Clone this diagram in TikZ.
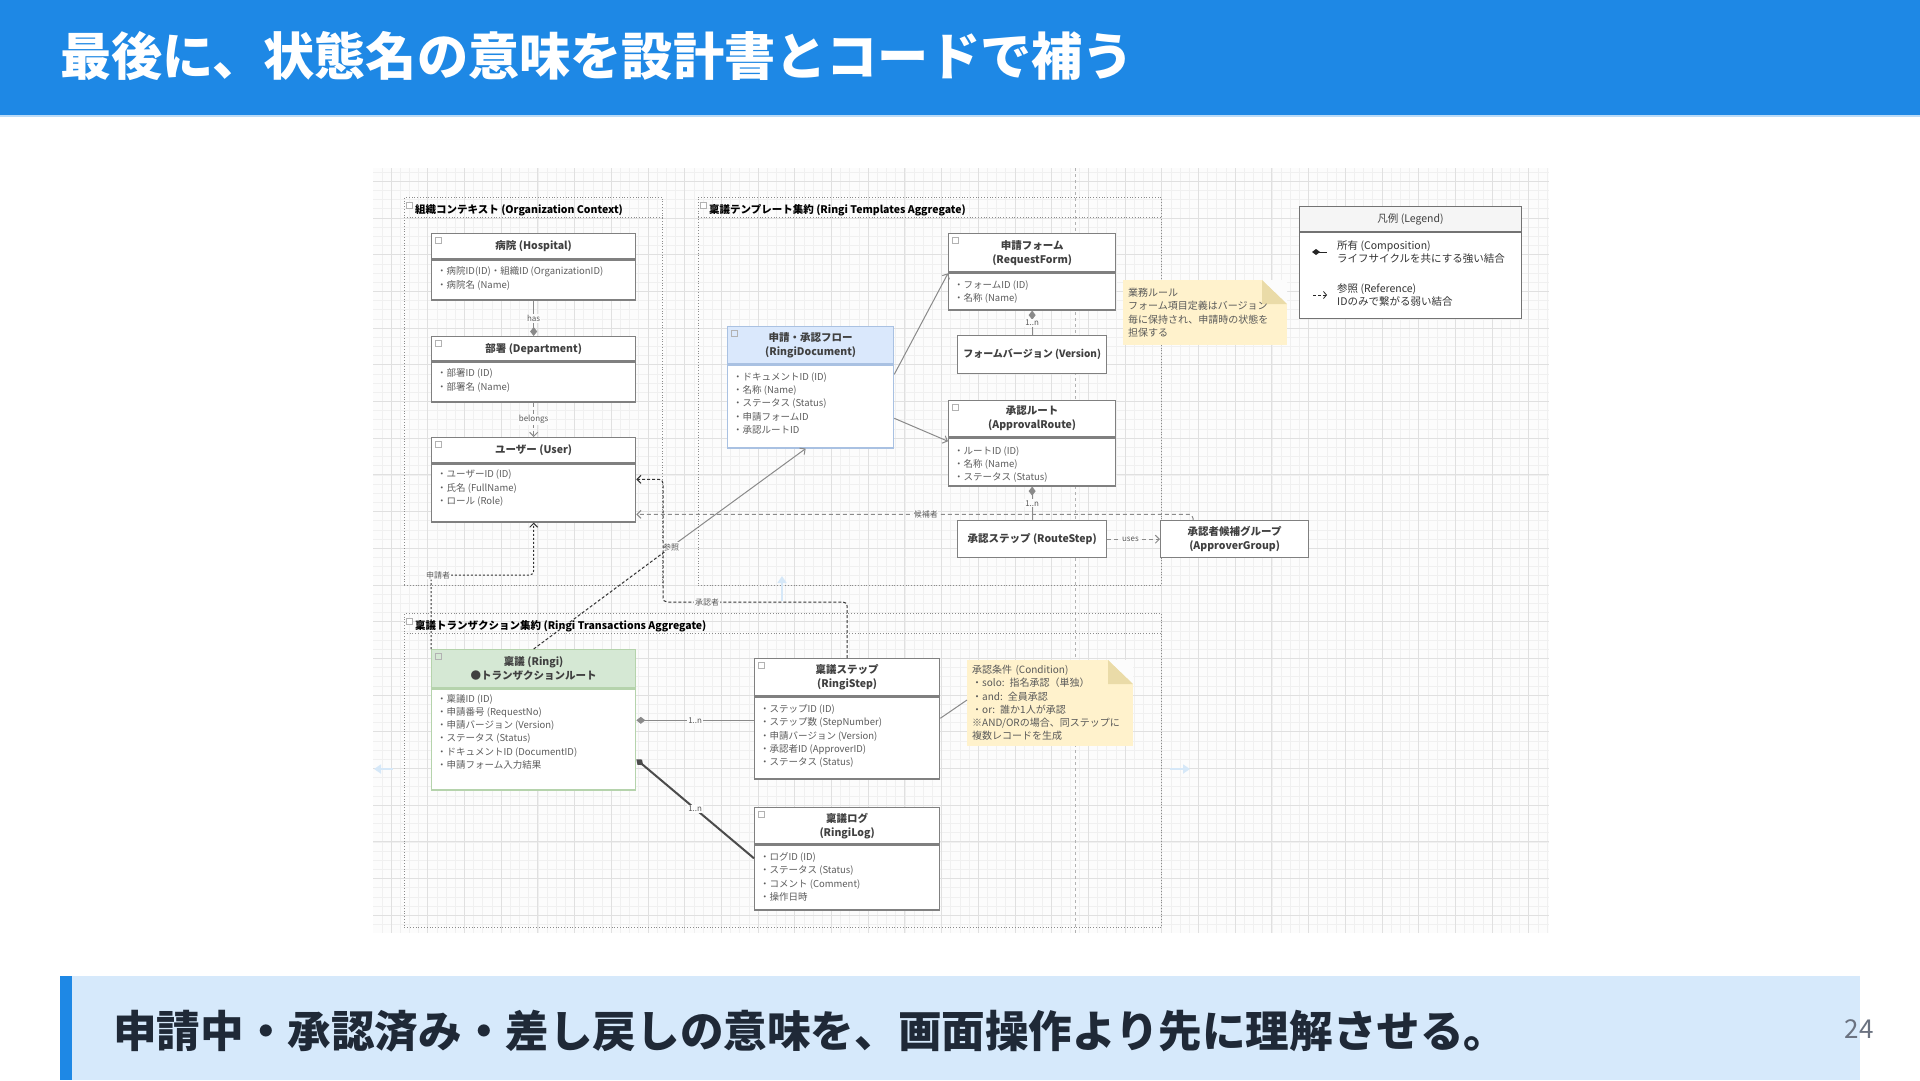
\documentclass[tikz,border=0pt]{standalone}
\usepackage{fontspec}
\setmainfont{Noto Sans CJK JP}
\usetikzlibrary{arrows.meta}

\definecolor{titleblue}{HTML}{1E88E5}
\definecolor{barblue}{HTML}{D6E9FB}
\definecolor{textnavy}{HTML}{1F2937}
\definecolor{pagegray}{HTML}{6B7280}
\definecolor{gridbg}{HTML}{FCFCFC}
\definecolor{gridminor}{HTML}{F0F0F0}
\definecolor{gridmajor}{HTML}{E0E0E0}
\definecolor{boxgray}{HTML}{808080}
\definecolor{linegray}{HTML}{8A8A8A}
\definecolor{attrgray}{HTML}{5C5C5C}
\definecolor{docblue}{HTML}{DAE8FC}
\definecolor{docedge}{HTML}{A9C1E2}
\definecolor{ringigreen}{HTML}{D5E8D4}
\definecolor{ringiedge}{HTML}{B5D3AC}
\definecolor{notefill}{HTML}{FFF2CC}
\definecolor{notefold}{HTML}{EADBA8}
\definecolor{hintblue}{HTML}{D6E8F8}

\begin{document}
\begin{tikzpicture}[x=1pt, y=-1pt,
    hdr/.style={draw=boxgray, line width=1.3pt, fill=white, anchor=north west, inner sep=0pt,
      align=center, font=\fontsize{10.5}{14}\selectfont\bfseries, text=black!75},
    body/.style={draw=boxgray, line width=1.3pt, fill=white, anchor=north west, inner sep=0pt},
    attr/.style={anchor=north west, inner sep=0pt, align=left,
      font=\fontsize{9.5}{13.3}\selectfont, text=attrgray},
    ctxframe/.style={draw=black!45, dotted, line width=0.8pt, anchor=north west, inner sep=0pt},
    ctxtitle/.style={anchor=west, inner sep=0pt, font=\fontsize{10.5}{12}\selectfont\bfseries},
    note/.style={fill=notefill, anchor=north west, inner sep=5pt, align=left, text=black!65,
      font=\fontsize{10}{13.6}\selectfont,
      path picture={
        \fill[gridbg] ([xshift=-25pt]path picture bounding box.north east)
          -- (path picture bounding box.north east)
          -- ([yshift=-24pt]path picture bounding box.north east) -- cycle;
        \fill[notefold] ([xshift=-25pt]path picture bounding box.north east)
          -- ([xshift=-25pt,yshift=-24pt]path picture bounding box.north east)
          -- ([yshift=-24pt]path picture bounding box.north east) -- cycle;}},
    lbl/.style={fill=gridbg, inner sep=1pt, font=\fontsize{8}{9}\selectfont, text=black!65},
    comp/.style={draw=linegray, line width=1pt, -{Diamond[length=9pt,width=7pt]}},
    comprev/.style={draw=linegray, line width=1pt, {Diamond[length=9pt,width=7pt]}-},
    refline/.style={draw=linegray, line width=1pt, dash pattern=on 4pt off 3pt,
      -{Straight Barb[length=4pt,width=8pt]}},
    xref/.style={draw=black!80, line width=1pt, dash pattern=on 3pt off 2pt, rounded corners=4pt,
      -{Straight Barb[length=4pt,width=8pt]}},
    flow/.style={draw=linegray, line width=1pt, -{Straight Barb[length=4pt,width=8pt]}},
    icon/.style={draw=black!30, line width=0.5pt},
    hint/.style={draw=hintblue, line width=2.5pt, -{Triangle[length=7pt,width=9pt]}}
  ]
  \useasboundingbox (0,0) rectangle (1920,1080);
  \fill[white] (0,0) rectangle (1920,1080);

  % title bar
  \fill[titleblue] (0,0) rectangle (1920,115);
  \fill[titleblue!30] (0,115) rectangle (1920,117);
  \node[anchor=west, inner sep=0pt, text=white, font=\fontsize{51.2}{60}\selectfont\bfseries] (title) at (60,56) {最後に、状態名の意味を設計書とコードで補う};

  % diagram canvas with grid
  \fill[gridbg] (373,168) rectangle (1549,933);
  \foreach \i in {0,...,127} \draw[gridminor, line width=0.5pt] ({381.8+\i*9.175},168) -- ({381.8+\i*9.175},933);
  \foreach \j in {0,...,82} \draw[gridminor, line width=0.5pt] (373,{172.0+\j*9.175}) -- (1549,{172.0+\j*9.175});
  \foreach \i in {0,...,31} \draw[gridmajor, line width=0.8pt] ({391.0+\i*36.7},168) -- ({391.0+\i*36.7},933);
  \foreach \j in {0,...,20} \draw[gridmajor, line width=0.8pt] (373,{181.2+\j*36.7}) -- (1549,{181.2+\j*36.7});
  \draw[black!30, dashed, line width=0.8pt] (1075,168) -- (1075,933);

  % contexts
  \node[ctxframe, minimum width=258, minimum height=388] (orgctx) at (404,197) {};
  \draw[ctxframe] ([yshift=-20pt]orgctx.north west) -- ([yshift=-20pt]orgctx.north east);
  \node[ctxtitle] (orgtitle) at ([xshift=11pt,yshift=-13.5pt]orgctx.north west) {組織コンテキスト (Organization Context)};
  \node[ctxframe, minimum width=463, minimum height=388] (tplctx) at (698,197) {};
  \draw[ctxframe] ([yshift=-20pt]tplctx.north west) -- ([yshift=-20pt]tplctx.north east);
  \node[ctxtitle] (tpltitle) at ([xshift=11pt,yshift=-13.5pt]tplctx.north west) {稟議テンプレート集約 (Ringi Templates Aggregate)};
  \node[ctxframe, minimum width=757, minimum height=314] (trxctx) at (404,613) {};
  \draw[ctxframe] ([yshift=-20pt]trxctx.north west) -- ([yshift=-20pt]trxctx.north east);
  \node[ctxtitle] (trxtitle) at ([xshift=11pt,yshift=-13.5pt]trxctx.north west) {稟議トランザクション集約 (Ringi Transactions Aggregate)};
  \foreach \n in {orgctx, tplctx, trxctx}
    \draw[icon, fill=white] ([xshift=2pt,yshift=-5pt]\n.north west) rectangle ++(6,6);

  % draw.io hover hints
  \draw[hint] (782,601) -- (782,576);
  \draw[hint] (393,769) -- (374,769);
  \draw[hint] (1170,769) -- (1190,769);

  % organization context
  \node[hdr, minimum width=204, minimum height=25] (hospitalH) at (431,233) {病院 (Hospital)};
  \node[body, minimum width=204, minimum height=40] (hospitalB) at (hospitalH.south west) {};
  \node[attr] (hospitalA) at ([xshift=6pt,yshift=-7.5pt]hospitalB.north west) {・病院ID(ID)・組織ID (OrganizationID)\\・病院名 (Name)};

  \node[hdr, minimum width=204, minimum height=24] (departmentH) at (431,336) {部署 (Department)};
  \node[body, minimum width=204, minimum height=40] (departmentB) at (departmentH.south west) {};
  \node[attr] (departmentA) at ([xshift=6pt,yshift=-7.5pt]departmentB.north west) {・部署ID (ID)\\・部署名 (Name)};

  \node[hdr, minimum width=204, minimum height=25] (userH) at (431,437) {ユーザー (User)};
  \node[body, minimum width=204, minimum height=58] (userB) at (userH.south west) {};
  \node[attr] (userA) at ([xshift=6pt,yshift=-6.5pt]userB.north west) {・ユーザーID (ID)\\・氏名 (FullName)\\・ロール (Role)};

  % templates aggregate
  \node[hdr, minimum width=166, minimum height=37, fill=docblue, draw=docedge] (ringidocH) at (727,326) {申請・承認フロー\\(RingiDocument)};
  \node[body, minimum width=166, minimum height=83, draw=docedge] (ringidocB) at (ringidocH.south west) {};
  \node[attr] (ringidocA) at ([xshift=6pt,yshift=-8pt]ringidocB.north west) {・ドキュメントID (ID)\\・名称 (Name)\\・ステータス (Status)\\・申請フォームID\\・承認ルートID};

  \node[hdr, minimum width=167, minimum height=38] (reqformH) at (948,233) {申請フォーム\\(RequestForm)};
  \node[body, minimum width=167, minimum height=37] (reqformB) at (reqformH.south west) {};
  \node[attr] (reqformA) at ([xshift=6pt,yshift=-8pt]reqformB.north west) {・フォームID (ID)\\・名称 (Name)};

  \node[hdr, minimum width=149, minimum height=38, font=\fontsize{10}{12}\selectfont\bfseries] (formver) at (957,335) {フォームバージョン (Version)};

  \node[hdr, minimum width=167, minimum height=36] (routeH) at (948,400) {承認ルート\\(ApprovalRoute)};
  \node[body, minimum width=167, minimum height=48] (routeB) at (routeH.south west) {};
  \node[attr] (routeA) at ([xshift=6pt,yshift=-9pt]routeB.north west) {・ルートID (ID)\\・名称 (Name)\\・ステータス (Status)};

  \node[hdr, minimum width=149, minimum height=37] (routestep) at (957,520) {承認ステップ (RouteStep)};
  \node[hdr, minimum width=148, minimum height=37] (apprgroup) at (1160,520) {承認者候補グループ\\(ApproverGroup)};

  \node[note, text width=154, minimum height=65] (note1) at (1123,280) {業務ルール\\フォーム項目定義はバージョン\\毎に保持され、申請時の状態を\\担保する};

  % transactions aggregate
  \node[hdr, minimum width=204, minimum height=38, fill=ringigreen, draw=ringiedge] (ringiH) at (431,649) {稟議 (Ringi)\\●トランザクションルート};
  \node[body, minimum width=204, minimum height=101, draw=ringiedge] (ringiB) at (ringiH.south west) {};
  \node[attr] (ringiA) at ([xshift=6pt,yshift=-5.5pt]ringiB.north west) {・稟議ID (ID)\\・申請番号 (RequestNo)\\・申請バージョン (Version)\\・ステータス (Status)\\・ドキュメントID (DocumentID)\\・申請フォーム入力結果};

  \node[hdr, minimum width=185, minimum height=37] (ringistepH) at (754,658) {稟議ステップ\\(RingiStep)};
  \node[body, minimum width=185, minimum height=82] (ringistepB) at (ringistepH.south west) {};
  \node[attr] (ringistepA) at ([xshift=6pt,yshift=-8pt]ringistepB.north west) {・ステップID (ID)\\・ステップ数 (StepNumber)\\・申請バージョン (Version)\\・承認者ID (ApproverID)\\・ステータス (Status)};

  \node[hdr, minimum width=185, minimum height=36] (ringilogH) at (754,807) {稟議ログ\\(RingiLog)};
  \node[body, minimum width=185, minimum height=65] (ringilogB) at (ringilogH.south west) {};
  \node[attr] (ringilogA) at ([xshift=6pt,yshift=-8pt]ringilogB.north west) {・ログID (ID)\\・ステータス (Status)\\・コメント (Comment)\\・操作日時};

  \node[note, text width=156, minimum height=82, font=\fontsize{10}{13.2}\selectfont] (note2) at (967,660) {承認条件 (Condition)\\・solo: 指名承認（単独）\\・and: 全員承認\\・or: 誰か1人が承認\\※AND/ORの場合、同ステップに\\複数レコードを生成};

  \foreach \n in {hospitalH, departmentH, userH, ringidocH, reqformH, routeH, ringiH, ringistepH, ringilogH}
    \draw[icon] ([xshift=4pt,yshift=-4pt]\n.north west) rectangle ++(6,6);

  % legend
  \node[hdr, minimum width=222, minimum height=25, fill=black!4, draw=black!55, line width=1pt,
    font=\fontsize{10.5}{12}\selectfont] (legendH) at (1299,206) {凡例 (Legend)};
  \node[body, minimum width=222, minimum height=86, draw=black!55, line width=1pt] (legendB) at (legendH.south west) {};
  \draw[draw=black!85, line width=1pt, {Diamond[length=8pt,width=6pt]}-] ([xshift=13pt,yshift=-20pt]legendB.north west) -- ++(15,0);
  \node[anchor=west, align=left, inner sep=0pt, font=\fontsize{10.5}{13.5}\selectfont, text=black!80] (comptext) at ([xshift=38pt,yshift=-20pt]legendB.north west) {所有 (Composition)\\ライフサイクルを共にする強い結合};
  \draw[draw=black!85, line width=0.8pt, dash pattern=on 3pt off 2pt, -{Straight Barb[length=3pt,width=7pt]}] ([xshift=14pt,yshift=-63pt]legendB.north west) -- ++(14,0);
  \node[anchor=west, align=left, inner sep=0pt, font=\fontsize{10.5}{13.5}\selectfont, text=black!80] (reftext) at ([xshift=38pt,yshift=-63pt]legendB.north west) {参照 (Reference)\\IDのみで繋がる弱い結合};

  % connectors inside contexts
  \draw[comp] (hospitalB.south) -- (departmentH.north) node[lbl, pos=0.5] {has};
  \draw[refline] (departmentB.south) -- (userH.north) node[lbl, pos=0.5] {belongs};
  \draw[comp] (formver.north) -- (reqformB.south) node[lbl, pos=0.5] {1..n};
  \draw[comp] (routestep.north) -- (routeB.south) node[lbl, pos=0.5] {1..n};
  \draw[refline] (routestep.east) -- (apprgroup.west) node[lbl, pos=0.44] {uses};
  \draw[flow] ([yshift=-10pt]ringidocH.south east) -- ([yshift=-1pt]reqformH.south west);
  \draw[flow] ([yshift=-54pt]ringidocH.south east) -- ([yshift=-4pt]routeH.south west);
  \draw[comprev] ([yshift=-32pt]ringiH.south east) -- ([yshift=-24pt]ringistepH.south west) node[lbl, pos=0.5] {1..n};
  \draw[comprev, draw=black!70, line width=2pt] ([yshift=-71pt]ringiH.south east) -- ([yshift=-14pt]ringilogH.south west) node[lbl, pos=0.5] {1..n};
  \draw[draw=linegray, line width=1pt] ([yshift=-22pt]ringistepH.south east) -- ([yshift=-40pt]note2.north west);

  % connectors across contexts
  \draw[refline, rounded corners=4pt] ([xshift=33pt]apprgroup.north west) |- ([yshift=-51pt]userH.south east) node[lbl, pos=0.74] {候補者};
  \coordinate (applicant) at (490,575);
  \draw[xref, dash pattern=on 2pt off 2pt] (ringiH.north west) |- node[lbl, xshift=7pt] {申請者} (applicant) -| (userB.south);
  \coordinate (refmid) at (671,547);
  \draw[black!80, line width=1pt, dash pattern=on 3pt off 2pt] (ringiH.north) -- (refmid);
  \draw[flow] (refmid) -- ([xshift=-5pt]ringidocB.south);
  \node[lbl] (reflabel) at (refmid) {参照};
  \coordinate (apprbend) at (663,602);
  \draw[xref] (ringistepH.north) |- node[lbl, pos=0.88] {承認者} (apprbend) |- ([yshift=-16pt]userB.north east);

  % bottom message bar
  \fill[barblue] (60,976) rectangle (1860,1080);
  \fill[titleblue] (60,976) rectangle (72,1080);
  \node[anchor=west, inner sep=0pt, text=textnavy, font=\fontsize{43.6}{50}\selectfont\bfseries] (message) at (113,1031) {申請中・承認済み・差し戻しの意味を、画面操作より先に理解させる。};
  \node[inner sep=0pt, text=pagegray, font=\fontsize{26}{30}\selectfont] (pageno) at (1859,1029) {24};
\end{tikzpicture}
\end{document}
